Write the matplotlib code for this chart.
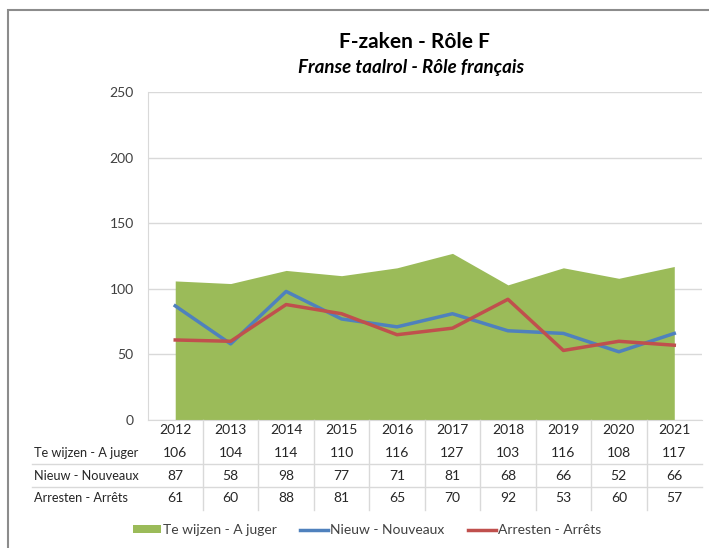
import numpy as np
import matplotlib.pyplot as plt
from matplotlib.patches import Rectangle
from matplotlib.transforms import blended_transform_factory

plt.rcParams['font.family'] = ['Lato', 'DejaVu Sans']

years = ['2012', '2013', '2014', '2015', '2016', '2017', '2018', '2019', '2020', '2021']
te_wijzen = [106, 104, 114, 110, 116, 127, 103, 116, 108, 117]
nieuw = [87, 58, 98, 77, 71, 81, 68, 66, 52, 66]
arresten = [61, 60, 88, 81, 65, 70, 92, 53, 60, 57]
row_labels = ['Te wijzen - A juger', 'Nieuw - Nouveaux', 'Arresten - Arrêts']

green = '#9BBB59'
blue = '#4F81BD'
red = '#C0504D'
grid_col = '#D9D9D9'

W, H = 709, 548
fig = plt.figure(figsize=(W / 100, H / 100), dpi=100)
ax = fig.add_axes([147.5 / W, 1 - 420 / H, (702 - 147.5) / W, (420 - 92) / H])

x = np.arange(len(years))
ax.fill_between(x, te_wijzen, color=green, lw=0, label=row_labels[0])
ax.plot(x, nieuw, color=blue, lw=2.5, label=row_labels[1])
ax.plot(x, arresten, color=red, lw=2.5, label=row_labels[2])

ax.set_xlim(-0.5, len(years) - 0.5)
ax.set_ylim(0, 250)
ax.set_yticks(range(0, 251, 50))
ax.yaxis.grid(True, color=grid_col, lw=1)
ax.set_axisbelow(True)
ax.set_xticks([])
ax.tick_params(axis='y', length=0, pad=10, labelsize=10, labelcolor='#404040')
for s in ['top', 'right']:
    ax.spines[s].set_visible(False)
for s in ['left', 'bottom']:
    ax.spines[s].set_color(grid_col)

# data table under the axis
tr = blended_transform_factory(ax.transData, fig.transFigure)
fy = lambda py: 1 - py / H
for i, yr in enumerate(years):
    ax.text(i, fy(430), yr, transform=tr, ha='center', va='center', fontsize=10, color='#262626')
rows = [te_wijzen, nieuw, arresten]
row_y = [453, 476, 498]
for vals, py, lab in zip(rows, row_y, row_labels):
    fig.text(34 / W, fy(py), lab, ha='left', va='center', fontsize=9.2, color='#262626')
    for i, v in enumerate(vals):
        ax.text(i, fy(py), str(v), transform=tr, ha='center', va='center', fontsize=10, color='#262626')
for py in [464, 487]:
    fig.add_artist(plt.Line2D([32 / W, 702 / W], [fy(py), fy(py)], color=grid_col, lw=1))
for i in range(len(years) - 1):
    ax.plot([i + 0.5, i + 0.5], [fy(420), fy(510)], transform=tr, color=grid_col, lw=1, clip_on=False)

fig.text(414 / W, fy(42), 'F-zaken - Rôle F', ha='center', va='center', fontsize=15, fontweight='bold')
fig.text(411 / W, fy(67), 'Franse taalrol - Rôle français', ha='center', va='center', fontsize=13.5,
         fontweight='bold', fontstyle='italic')

fig.legend(loc='center', bbox_to_anchor=(367 / W, fy(530)), ncol=3, frameon=False, fontsize=10,
           handlelength=2, handleheight=0.5, handletextpad=0.15, columnspacing=1.7,
           labelcolor='#404040')

fig.add_artist(Rectangle((8 / W, -0.1), 1.1, 1.1 - 10 / H, transform=fig.transFigure,
                         fill=False, ec='#8C8C8C', lw=1.5))

fig.savefig('out.png', dpi=100)
